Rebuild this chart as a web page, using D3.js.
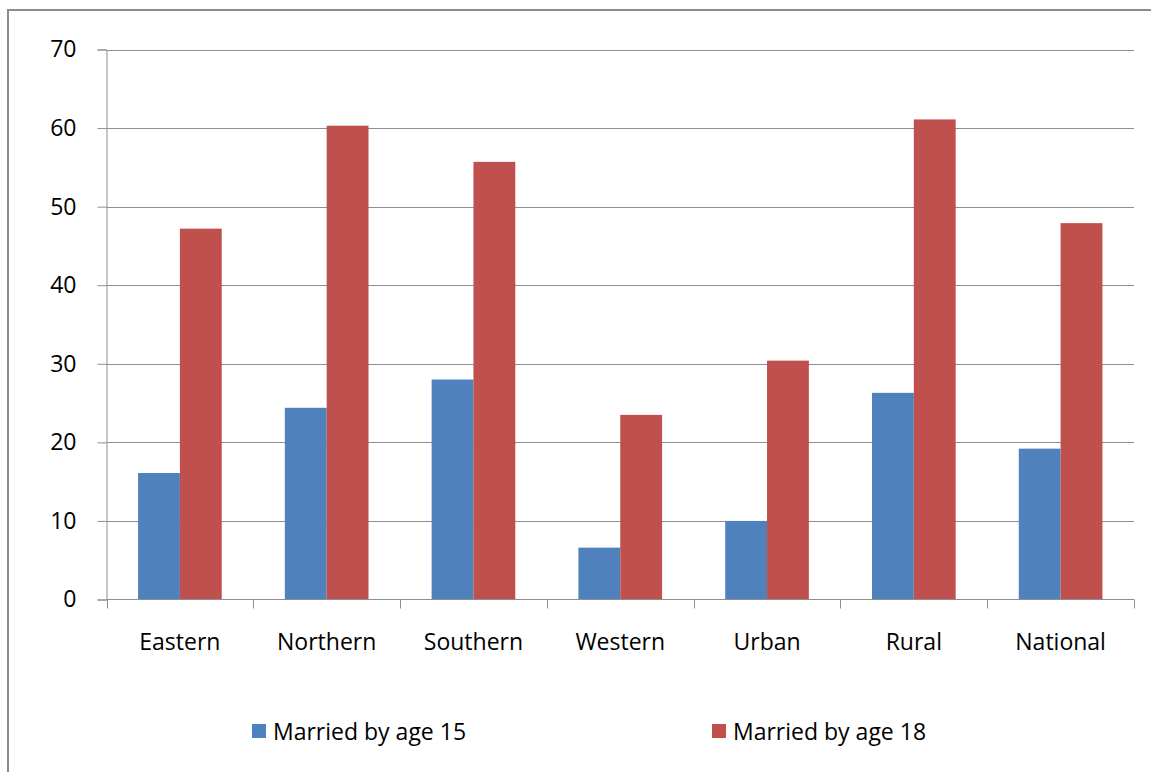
<!DOCTYPE html>
<html>
<head>
<meta charset="utf-8">
<script src="https://cdn.jsdelivr.net/npm/d3@7"></script>
<style>
  body { margin: 0; background: #fff; }
  svg { display: block; font-family: 'Open Sans', sans-serif; }
</style>
</head>
<body>
<script>
const regions = ['Eastern', 'Northern', 'Southern', 'Western', 'Urban', 'Rural', 'National'];
const seriesNames = ['Married by age 15', 'Married by age 18'];
const by15 = [16.1, 24.4, 28.0, 6.6, 10.0, 26.3, 19.2];
const by18 = [47.2, 60.3, 55.7, 23.5, 30.4, 61.1, 47.9];
const yTicks = [0, 10, 20, 30, 40, 50, 60, 70];
const colors = ['#4F81BD', '#C0504D'];

const width = 1151, height = 772;
const svg = d3.select('body')
  .append('svg')
  .attr('width', width)
  .attr('height', height);

// outer chart border (clipped at right/bottom)
svg.append('rect')
  .attr('x', 8)
  .attr('y', 10)
  .attr('width', 1200)
  .attr('height', 800)
  .attr('fill', 'white')
  .attr('stroke', '#8c8c8c')
  .attr('stroke-width', 2);

const plotLeft = 106.5, plotRight = 1134, plotTop = 49.5, plotBottom = 599.5;

const x = d3.scaleBand()
  .domain(regions)
  .range([plotLeft, plotRight])
  .paddingInner(0.43)
  .paddingOuter(0.215);

const xSub = d3.scaleBand()
  .domain([0, 1])
  .range([0, x.bandwidth()]);

const y = d3.scaleLinear()
  .domain([0, 70])
  .range([plotBottom, plotTop]);

// gridlines
svg.selectAll('.grid')
  .data(yTicks.filter(d => d > 0))
  .enter()
  .append('line')
  .attr('x1', plotLeft)
  .attr('x2', plotRight)
  .attr('y1', d => Math.round(y(d)) + 0.5)
  .attr('y2', d => Math.round(y(d)) + 0.5)
  .attr('stroke', '#8e8e8e')
  .attr('stroke-width', 1);

// bars
const rows = regions.map((r, i) => ({ region: r, values: [by15[i], by18[i]] }));
const groups = svg.selectAll('.grp')
  .data(rows)
  .enter()
  .append('g')
  .attr('transform', d => `translate(${x(d.region)},0)`);

groups.selectAll('rect')
  .data(d => d.values.map((v, k) => ({ v, k })))
  .enter()
  .append('rect')
  .attr('x', d => xSub(d.k))
  .attr('width', xSub.bandwidth())
  .attr('y', d => y(d.v))
  .attr('height', d => y(0) - y(d.v))
  .attr('fill', d => colors[d.k]);

// y axis
const yAxis = svg.append('g')
  .attr('transform', `translate(${plotLeft},0)`)
  .call(d3.axisLeft(y).tickValues(yTicks).tickSize(9).tickPadding(21).tickFormat(d3.format('d')));
yAxis.selectAll('path, line').attr('stroke', '#8e8e8e');
yAxis.selectAll('text')
  .attr('font-size', 23)
  .attr('font-family', "'Open Sans', sans-serif")
  .attr('fill', '#000');

// x axis: ticks between categories
const xTickPos = d3.range(regions.length + 1).map(i => plotLeft + i * (plotRight - plotLeft) / regions.length);
svg.append('line')
  .attr('x1', plotLeft)
  .attr('x2', plotRight)
  .attr('y1', plotBottom)
  .attr('y2', plotBottom)
  .attr('stroke', '#8e8e8e');
svg.selectAll('.xtick')
  .data(xTickPos)
  .enter()
  .append('line')
  .attr('x1', d => Math.round(d) + 0.5)
  .attr('x2', d => Math.round(d) + 0.5)
  .attr('y1', plotBottom)
  .attr('y2', plotBottom + 9)
  .attr('stroke', '#8e8e8e');

svg.selectAll('.xlabel')
  .data(regions)
  .enter()
  .append('text')
  .attr('x', d => x(d) + x.bandwidth() / 2)
  .attr('y', 650)
  .attr('text-anchor', 'middle')
  .attr('font-size', 23)
  .attr('fill', '#000')
  .text(d => d);

// legend
const legendX = [252, 712];
const legend = svg.selectAll('.legend')
  .data(seriesNames)
  .enter()
  .append('g')
  .attr('transform', (d, i) => `translate(${legendX[i]},724)`);
legend.append('rect')
  .attr('width', 14)
  .attr('height', 14)
  .attr('fill', (d, i) => colors[i]);
legend.append('text')
  .attr('x', 21)
  .attr('y', 16)
  .attr('font-size', 23)
  .attr('fill', '#000')
  .text(d => d);
</script>
</body>
</html>
